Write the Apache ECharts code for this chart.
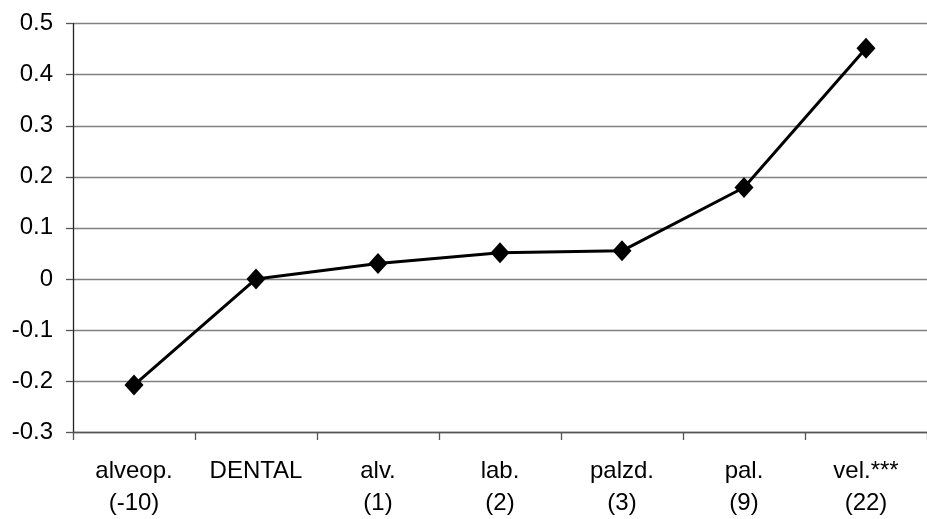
<!DOCTYPE html>
<html>
<head>
<meta charset="utf-8">
<script src="https://cdn.jsdelivr.net/npm/echarts@6/dist/echarts.min.js"></script>
<style>
html,body{margin:0;padding:0;background:#fff;}
#chart{width:927px;height:519px;}
</style>
</head>
<body>
<div id="chart"></div>
<script>
var categories = ['alveop.\n(-10)', 'DENTAL', 'alv.\n(1)', 'lab.\n(2)', 'palzd.\n(3)', 'pal.\n(9)', 'vel.***\n(22)'];
var values = [-0.208, 0.0, 0.030, 0.051, 0.055, 0.179, 0.452];
var yMin = -0.3, yMax = 0.5, yStep = 0.1;

var chart = echarts.init(document.getElementById('chart'), null, {renderer: 'canvas'});
chart.setOption({
  animation: false,
  backgroundColor: '#ffffff',
  grid: {left: 73, right: -5, top: 23.7, bottom: 85, containLabel: false},
  xAxis: {
    type: 'category',
    data: categories,
    boundaryGap: true,
    axisLine: {onZero: false, lineStyle: {color: '#555555', width: 1.3}},
    axisTick: {show: true, length: 8, lineStyle: {color: '#555555', width: 1.3}},
    axisLabel: {
      interval: 0,
      color: '#000',
      fontFamily: 'Liberation Sans, Arial, sans-serif',
      fontSize: 24,
      lineHeight: 32,
      margin: 23
    },
    splitLine: {show: false}
  },
  yAxis: {
    type: 'value',
    min: yMin,
    max: yMax,
    interval: yStep,
    axisLine: {show: true, lineStyle: {color: '#222222', width: 1.3}},
    axisTick: {show: true, length: 7, lineStyle: {color: '#555555', width: 1.3}},
    axisLabel: {
      color: '#000',
      fontFamily: 'Liberation Sans, Arial, sans-serif',
      fontSize: 24,
      margin: 20,
      formatter: function (v) { return String(Math.round(v * 10) / 10); }
    },
    splitLine: {show: true, lineStyle: {color: '#808080', width: 1.3}}
  },
  series: [{
    type: 'line',
    data: values,
    symbol: 'diamond',
    symbolSize: [19, 21],
    itemStyle: {color: '#000'},
    lineStyle: {color: '#000', width: 3},
    z: 3
  }]
});
</script>
</body>
</html>
